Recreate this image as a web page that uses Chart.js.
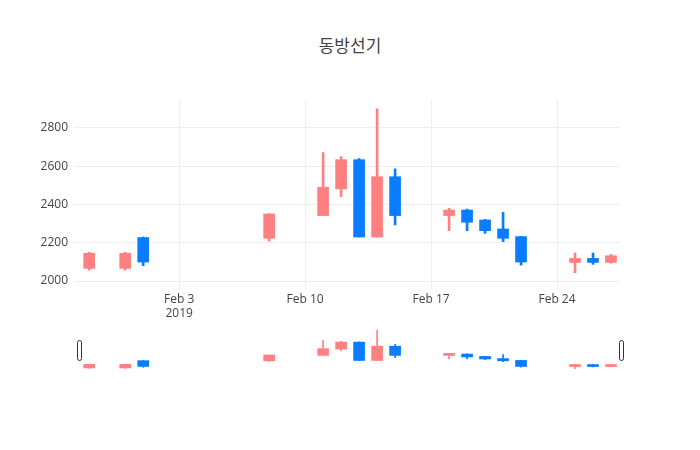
<!DOCTYPE html>
<html>
<head>
<meta charset="utf-8">
<script src="https://cdn.jsdelivr.net/npm/chart.js@4"></script>
<style>
  body { margin: 0; background: #fff; font-family: "Open Sans", sans-serif; }
  #title { position: absolute; top: 32px; left: 0; width: 700px; text-align: center; font-size: 17px; color: #444; font-family: "Noto Sans CJK KR", sans-serif; }
  #main { position: absolute; left: 0; top: 0; width: 700px; height: 330px; }
  #slider { position: absolute; left: 0; top: 326px; width: 700px; height: 48px; }
</style>
</head>
<body>
<div id="title">동방선기</div>
<div id="main"><canvas id="c1"></canvas></div>
<div id="slider"><canvas id="c2"></canvas></div>
<script>
// days relative to Feb 3 2019
const days  = [-5, -3, -2, 5, 8, 9, 10, 11, 12, 15, 16, 17, 18, 19, 22, 23, 24];
const opens = [2066, 2066, 2227, 2223, 2342, 2481, 2634, 2230, 2545, 2342, 2371, 2319, 2272, 2232, 2097, 2118, 2097];
const highs = [2150, 2150, 2230, 2352, 2671, 2650, 2640, 2900, 2586, 2380, 2376, 2322, 2359, 2232, 2146, 2146, 2139];
const lows  = [2057, 2057, 2080, 2209, 2342, 2441, 2230, 2230, 2293, 2263, 2263, 2249, 2206, 2083, 2043, 2087, 2093];
const closes= [2145, 2145, 2099, 2350, 2490, 2634, 2230, 2545, 2342, 2371, 2307, 2263, 2223, 2099, 2118, 2097, 2132];
const tickDays = [0, 7, 14, 21];
const tickLabels = [["Feb 3", "2019"], "Feb 10", "Feb 17", "Feb 24"];
const yTicks = [2000, 2200, 2400, 2600, 2800];

const UP = "#ff8080", DOWN = "#0a7cff";
const colors = days.map((d, i) => closes[i] >= opens[i] ? UP : DOWN);
const bodies = days.map((d, i) => ({ x: d, y: [opens[i], closes[i]] }));
const wicks = days.map((d, i) => ({ x: d, y: [lows[i], highs[i]] }));
const xMin = -5.4, xMax = 24.5;

new Chart(document.getElementById("c1"), {
  type: "bar",
  data: {
    datasets: [
      { data: wicks, backgroundColor: colors, barThickness: 2, grouped: false },
      { data: bodies, backgroundColor: colors, barThickness: 11, grouped: false, minBarLength: 2 }
    ]
  },
  options: {
    responsive: true, maintainAspectRatio: false, animation: false,
    layout: { padding: { top: 100, right: 80 } },
    plugins: { legend: { display: false }, tooltip: { enabled: false } },
    scales: {
      x: {
        type: "linear", min: xMin, max: xMax, offset: false,
        afterBuildTicks: (s) => { s.ticks = tickDays.map(v => ({ value: v })); },
        afterFit: (s) => { s.height = 49; },
        ticks: { color: "#444", font: { size: 12, family: "Open Sans" }, maxRotation: 0,
          callback: (v) => tickLabels[tickDays.indexOf(v)] },
        grid: { color: "#eee", offset: false }, border: { display: false }
      },
      y: {
        min: 2000, max: 2946,
        afterBuildTicks: (s) => { s.ticks = yTicks.map(v => ({ value: v })); },
        afterFit: (s) => { s.width = 82; },
        ticks: { color: "#444", font: { size: 12, family: "Open Sans" }, padding: 6,
          callback: (v) => String(v) },
        grid: { color: "#eee" }, border: { display: false }
      }
    }
  }
});

const handles = {
  id: "handles",
  afterDraw(chart) {
    const ctx = chart.ctx, a = chart.chartArea;
    [a.left - 5, a.right - 1].forEach(x => {
      ctx.fillStyle = "#fff"; ctx.strokeStyle = "#333"; ctx.lineWidth = 1;
      ctx.beginPath(); ctx.roundRect(x + 0.5, 14.5, 4, 20, 2); ctx.fill(); ctx.stroke();
    });
  }
};

new Chart(document.getElementById("c2"), {
  type: "bar",
  data: {
    datasets: [
      { data: wicks, backgroundColor: colors, barThickness: 1, grouped: false },
      { data: bodies, backgroundColor: colors, barThickness: 11, grouped: false, minBarLength: 2 }
    ]
  },
  options: {
    responsive: true, maintainAspectRatio: false, animation: false,
    layout: { padding: { left: 82, right: 80, top: 4, bottom: 5 } },
    plugins: { legend: { display: false }, tooltip: { enabled: false } },
    scales: {
      x: { type: "linear", min: xMin, max: xMax, offset: false, display: false },
      y: { min: 2043, max: 2900, display: false }
    }
  },
  plugins: [handles]
});
</script>
</body>
</html>
